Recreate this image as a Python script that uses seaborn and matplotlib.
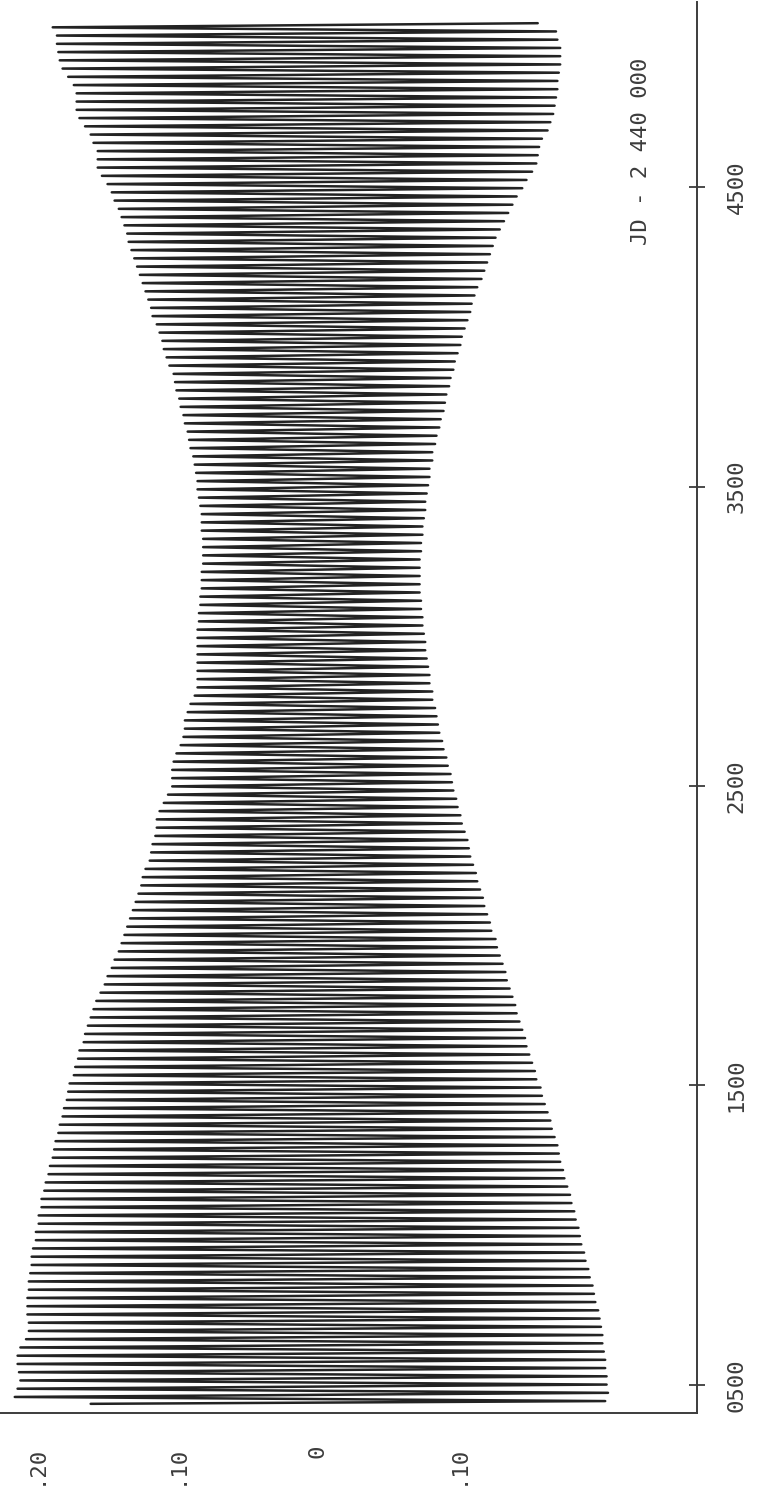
import numpy as np
import pandas as pd
import matplotlib
matplotlib.use('Agg')
import matplotlib.pyplot as plt
import seaborn as sns

# cycle timing (JD - 2 440 000)
period = 27.55
first_max = 460.0

# the trace begins part-way into a swing, just before the first full cycle
start_jd = 437.0
start_val = 0.161
start_min = -0.205

# extreme value of every cycle, oldest first (read from the left / right edges)
peak_hi = [
    .215, .213, .211, .212, .213, .213, .211, .207, .205, .205,
    .206, .206, .206, .205, .205, .204, .203, .203, .202, .200,
    .200, .198, .198, .196, .196, .194, .193, .191, .190, .188,
    .187, .186, .184, .183, .181, .180, .178, .177, .176, .173,
    .172, .170, .169, .166, .165, .163, .161, .159, .157, .154,
    .151, .149, .146, .144, .141, .139, .137, .135, .133, .131,
    .129, .127, .125, .124, .122, .119, .118, .117, .115, .114,
    .114, .112, .109, .106, .103, .103, .103, .102, .100, .097,
    .095, .094, .094, .092, .090, .087, .085, .085, .085, .085,
    .085, .085, .085, .085, .084, .084, .083, .083, .082, .082,
    .082, .081, .081, .081, .081, .082, .082, .082, .083, .084,
    .085, .085, .086, .087, .088, .090, .091, .092, .094, .095,
    .097, .098, .100, .101, .102, .105, .107, .109, .110, .112,
    .114, .117, .118, .120, .122, .124, .126, .128, .130, .132,
    .134, .135, .137, .139, .141, .144, .146, .149, .153, .156,
    .156, .156, .159, .161, .165, .169, .171, .171, .171, .173,
    .177, .181, .183, .184, .185, .185, .188,
]
peak_lo = [
    -.207, -.206, -.206, -.205, -.205, -.204, -.203, -.203, -.202, -.201,
    -.200, -.198, -.197, -.196, -.194, -.193, -.191, -.190, -.188, -.187,
    -.186, -.184, -.183, -.181, -.180, -.178, -.176, -.175, -.173, -.172,
    -.171, -.169, -.167, -.166, -.164, -.162, -.160, -.159, -.156, -.155,
    -.153, -.151, -.149, -.148, -.146, -.144, -.142, -.141, -.139, -.137,
    -.135, -.134, -.132, -.130, -.128, -.127, -.124, -.123, -.121, -.119,
    -.118, -.116, -.114, -.113, -.111, -.109, -.108, -.107, -.105, -.103,
    -.102, -.100, -.099, -.097, -.096, -.095, -.093, -.092, -.090, -.089,
    -.087, -.086, -.085, -.084, -.082, -.082, -.080, -.080, -.079, -.078,
    -.077, -.077, -.076, -.075, -.075, -.074, -.074, -.073, -.073, -.073,
    -.073, -.073, -.074, -.074, -.075, -.075, -.076, -.077, -.077, -.078,
    -.079, -.080, -.080, -.082, -.082, -.084, -.085, -.087, -.088, -.090,
    -.091, -.092, -.094, -.095, -.097, -.098, -.100, -.102, -.103, -.105,
    -.107, -.109, -.110, -.112, -.114, -.117, -.119, -.121, -.123, -.125,
    -.127, -.130, -.133, -.136, -.139, -.142, -.146, -.149, -.153, -.156,
    -.157, -.158, -.160, -.164, -.166, -.168, -.169, -.170, -.171, -.171,
    -.172, -.173, -.173, -.173, -.171, -.170, -.157,
]

value_ticks = [0.20, 0.15, 0.10, 0.05, 0.0, -0.05, -0.10, -0.15]
value_labels = ['.20', '', '.10', '', '0', '', '.10', '']
jd_ticks = [500, 1500, 2500, 3500, 4500]
jd_labels = ['0500', '1500', '2500', '3500', '4500']
axis_note = 'JD - 2 440 000'

# alternate max / min of each cycle into one curve
n = len(peak_hi)
t_hi = first_max + period * np.arange(n)
t_lo = t_hi + period / 2
jd = np.concatenate([[start_jd, first_max - period / 2],
                     np.column_stack([t_hi, t_lo]).ravel()])
val = np.concatenate([[start_val, start_min],
                      np.column_stack([peak_hi, peak_lo]).ravel()])
df = pd.DataFrame({'jd': jd, 'val': val})

sns.set_theme(style='white')
plt.rcParams['font.family'] = ['DejaVu Sans Mono', 'DejaVu Sans']
ink = '#3c3c3c'

fig = plt.figure(figsize=(7.62, 14.96), dpi=100)
ax = fig.add_axes([0.0, 0.0555, 0.9147, 0.9432])

sns.lineplot(data=df, x='val', y='jd', sort=False, estimator=None, orient='y',
             color='#232323', linewidth=1.8, ax=ax)
for ln in ax.get_lines():
    ln.set_solid_joinstyle('round')
    ln.set_solid_capstyle('round')

ax.set_xlim(0.2255, -0.2703)
ax.set_ylim(406.5, 5118)
ax.set_xlabel('')
ax.set_ylabel('')

for side in ['top', 'left']:
    ax.spines[side].set_visible(False)
for side in ['bottom', 'right']:
    ax.spines[side].set_color(ink)
    ax.spines[side].set_linewidth(1.4)

ax.set_xticks(value_ticks)
ax.set_xticklabels(value_labels, rotation=90, fontsize=16, color=ink)
ax.tick_params(axis='x', direction='out', length=5, width=1.3, color=ink, pad=18)

ax.yaxis.tick_right()
ax.set_yticks(jd_ticks)
ax.set_yticklabels(jd_labels, rotation=90, fontsize=16, color=ink, va='center')
ax.tick_params(axis='y', direction='inout', length=11, width=1.3, color=ink, pad=16)

fig.text(0.841, 0.899, axis_note, rotation=90, ha='center', va='center',
         fontsize=16, color=ink)

fig.savefig('out.png', dpi=100)
